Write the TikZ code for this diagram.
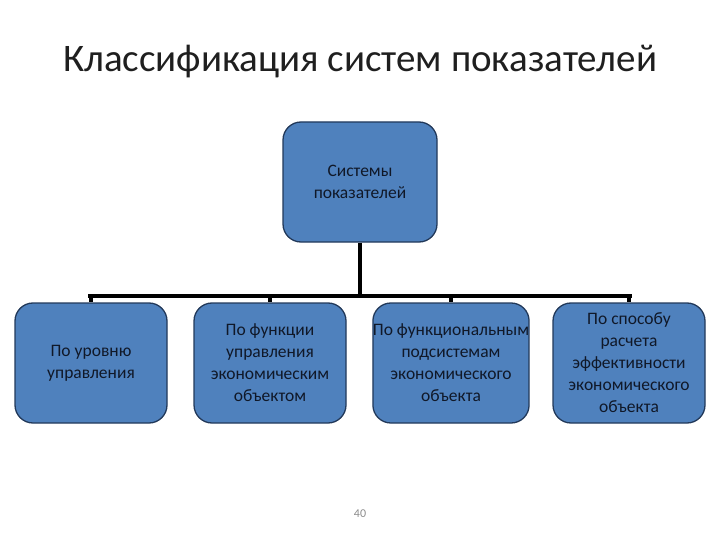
\documentclass[tikz,border=0pt]{standalone}
\usepackage{fontspec}
\setmainfont{Carlito}
\usetikzlibrary{positioning}

\definecolor{boxblue}{HTML}{4F81BD}
\definecolor{boxedge}{HTML}{22395A}
\definecolor{boxtext}{HTML}{101828}

\tikzset{
  catbox/.style={draw=boxedge, line width=1.3pt, fill=boxblue, rounded corners=18pt,
    minimum width=152pt, minimum height=120pt, align=center, text=boxtext,
    font=\fontsize{17.5}{22}\selectfont, inner sep=0pt},
  busline/.style={line width=4pt, black}
}

\begin{document}
\begin{tikzpicture}[x=1pt, y=-1pt]
    \useasboundingbox (0,0) rectangle (720,540);

    % Title
    \node[font=\fontsize{39}{44}\selectfont, text=black!88] (title) at (360,62)
        {Классификация систем показателей};

    % Root
    \node[catbox, minimum width=154pt] (root) at (360,182) {Системы\\показателей};

    % Categories
    \node[catbox] (level) at (91,363) {По уровню\\управления};
    \node[catbox] (func) at (270,363) {По функции\\управления\\экономическим\\объектом};
    \node[catbox] (subsys) at (451,363) {По функциональным\\подсистемам\\экономического\\объекта};
    \node[catbox] (calc) at (629,363) {По способу\\расчета\\эффективности\\экономического\\объекта};

    % Bus
    \coordinate (busL) at (88,296);
    \coordinate (busR) at (632,296);
    \draw[busline] (root.south) -- (root.south |- busL);
    \draw[busline] (busL) -- (busR);
    \foreach \b in {level, func, subsys, calc}
        \draw[busline] (\b.north |- busL) -- (\b.north);

    % Page number
    \node[font=\fontsize{12}{14}\selectfont, text=black!45] (page) at (360,514) {40};
\end{tikzpicture}
\end{document}
